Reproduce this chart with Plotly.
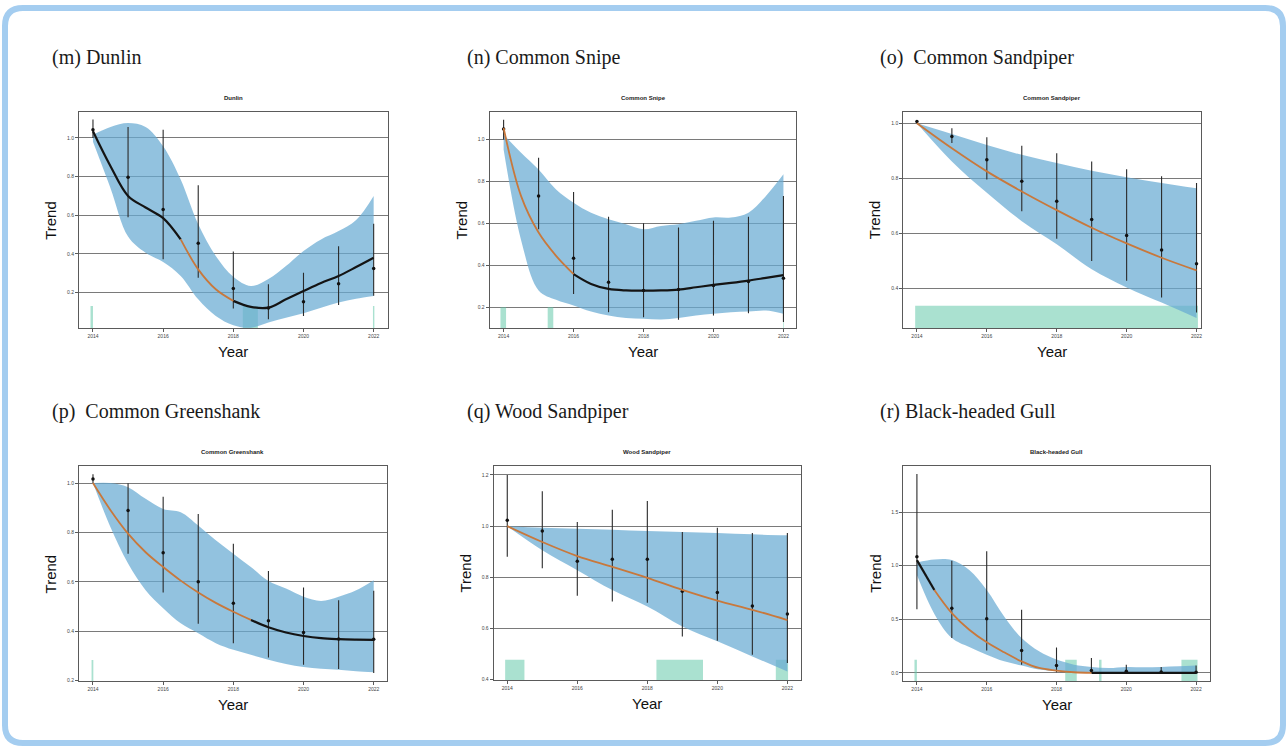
import plotly.graph_objects as go

W, H = 1288, 748

YEARS = [2014, 2015, 2016, 2017, 2018, 2019, 2020, 2021, 2022]
HALF_YEARS = [2014.0, 2014.5, 2015.0, 2015.5, 2016.0, 2016.5, 2017.0, 2017.5, 2018.0,
              2018.5, 2019.0, 2019.5, 2020.0, 2020.5, 2021.0, 2021.5, 2022.0]

# (m) Dunlin
DUN_FIT = [1.035, 0.854, 0.70, 0.64, 0.585, 0.475, 0.32, 0.217, 0.157, 0.126, 0.122,
           0.165, 0.208, 0.25, 0.286, 0.332, 0.38]
DUN_BAND_HI = [1.017, 1.057, 1.077, 1.057, 0.957, 0.785, 0.553, 0.389, 0.282, 0.234, 0.27,
               0.337, 0.415, 0.475, 0.518, 0.575, 0.70]
DUN_BAND_LO = [0.98, 0.74, 0.49, 0.406, 0.358, 0.286, 0.165, 0.079, 0.031, 0.018, 0.045,
               0.07, 0.093, 0.122, 0.148, 0.168, 0.182]
DUN_PT = [1.043, 0.797, 0.630, 0.455, 0.221, 0.120, 0.153, 0.246, 0.325]
DUN_LO = [1.00, 0.59, 0.372, 0.277, 0.117, 0.062, 0.079, 0.136, 0.183]
DUN_HI = [1.095, 1.057, 1.043, 0.756, 0.413, 0.243, 0.303, 0.44, 0.556]
DUN_RECT_X0 = [2013.93, 2018.27, 2021.98]
DUN_RECT_X1 = [2014.0, 2018.70, 2022.02]
DUN_RECT_TOP = 0.13

# (n) Common Snipe
SNI_FIT = [1.055, 0.73, 0.556, 0.445, 0.358, 0.311, 0.287, 0.28, 0.279, 0.28, 0.284,
           0.295, 0.306, 0.316, 0.327, 0.34, 0.353]
SNI_BAND_HI = [1.024, 0.937, 0.857, 0.762, 0.699, 0.651, 0.62, 0.596, 0.572, 0.588, 0.596,
               0.612, 0.628, 0.628, 0.651, 0.731, 0.834]
SNI_BAND_LO = [0.952, 0.52, 0.28, 0.235, 0.208, 0.179, 0.16, 0.148, 0.145, 0.141, 0.148,
               0.16, 0.168, 0.176, 0.179, 0.184, 0.168]
SNI_PT = [1.051, 0.731, 0.434, 0.319, 0.279, 0.284, 0.303, 0.323, 0.338]
SNI_LO = [1.0, 0.572, 0.263, 0.176, 0.152, 0.14, 0.16, 0.171, 0.129]
SNI_HI = [1.095, 0.913, 0.75, 0.631, 0.6, 0.58, 0.612, 0.631, 0.731]
SNI_RECT_X0 = [2013.91, 2015.26, 2021.99]
SNI_RECT_X1 = [2014.07, 2015.42, 2022.01]
SNI_RECT_TOP = 0.2

# (o) Common Sandpiper
SAN_FIT = [1.0, 0.909, 0.825, 0.752, 0.684, 0.62, 0.563, 0.511, 0.465]
SAN_BAND_HI = [1.0, 0.961, 0.921, 0.885, 0.855, 0.827, 0.804, 0.783, 0.764]
SAN_BAND_LO = [1.0, 0.861, 0.747, 0.644, 0.56, 0.469, 0.403, 0.348, 0.292]
SAN_PT = [1.006, 0.952, 0.867, 0.789, 0.716, 0.65, 0.592, 0.539, 0.489]
SAN_LO = [1.0, 0.928, 0.795, 0.68, 0.58, 0.499, 0.427, 0.366, 0.312]
SAN_HI = [1.01, 0.982, 0.949, 0.918, 0.891, 0.861, 0.833, 0.807, 0.783]
SAN_RECT_X0 = [2013.95]
SAN_RECT_X1 = [2022.04]
SAN_RECT_TOP = 0.336

# (p) Common Greenshank
GRE_FIT = [1.0, 0.89, 0.795, 0.72, 0.66, 0.605, 0.557, 0.515, 0.479, 0.446, 0.416,
           0.395, 0.381, 0.372, 0.368, 0.366, 0.365]
GRE_BAND_HI = [1.0, 1.0, 0.983, 0.936, 0.895, 0.882, 0.828, 0.768, 0.714, 0.66, 0.603,
               0.573, 0.54, 0.523, 0.54, 0.566, 0.607]
GRE_BAND_LO = [1.0, 0.821, 0.674, 0.566, 0.493, 0.432, 0.392, 0.352, 0.325, 0.305, 0.285,
               0.268, 0.255, 0.248, 0.244, 0.238, 0.234]
GRE_PT = [1.016, 0.889, 0.718, 0.60, 0.513, 0.443, 0.395, 0.369, 0.368]
GRE_LO = [1.0, 0.714, 0.557, 0.43, 0.352, 0.294, 0.264, 0.247, 0.231]
GRE_HI = [1.036, 0.999, 0.945, 0.875, 0.754, 0.644, 0.577, 0.526, 0.564]
GRE_RECT_X0 = [2013.96]
GRE_RECT_X1 = [2014.01]
GRE_RECT_TOP = 0.284

# (q) Wood Sandpiper
WOO_FIT = [1.0, 0.938, 0.883, 0.841, 0.798, 0.751, 0.709, 0.673, 0.633]
WOO_BAND_HI = [1.0, 0.994, 0.99, 0.986, 0.981, 0.977, 0.973, 0.968, 0.964]
WOO_BAND_LO = [1.0, 0.906, 0.828, 0.75, 0.686, 0.608, 0.55, 0.491, 0.432]
WOO_PT = [1.023, 0.981, 0.863, 0.871, 0.871, 0.746, 0.741, 0.688, 0.657]
WOO_LO = [0.88, 0.835, 0.728, 0.705, 0.701, 0.569, 0.552, 0.497, 0.465]
WOO_HI = [1.2, 1.136, 1.016, 1.064, 1.098, 0.977, 0.994, 0.973, 0.973]
WOO_RECT_X0 = [2013.94, 2018.26, 2021.67]
WOO_RECT_X1 = [2014.49, 2019.59, 2022.02]
WOO_RECT_TOP = 0.478

# (r) Black-headed Gull
GUL_FIT = [1.052, 0.773, 0.557, 0.402, 0.285, 0.192, 0.108, 0.046, 0.022, 0.006, 0.0,
           0.0, 0.0, 0.0, 0.0, 0.0, 0.0]
GUL_BAND_HI = [1.03, 1.058, 1.052, 0.959, 0.773, 0.526, 0.325, 0.201, 0.124, 0.077, 0.056,
               0.046, 0.056, 0.053, 0.056, 0.062, 0.068]
GUL_BAND_LO = [0.912, 0.55, 0.325, 0.241, 0.17, 0.108, 0.068, 0.031, 0.015, 0.006, 0.0,
               0.0, 0.0, 0.0, 0.0, 0.0, 0.0]
GUL_PT = [1.083, 0.603, 0.504, 0.21, 0.068, 0.022, 0.015, 0.009, 0.006]
GUL_LO = [0.594, 0.325, 0.21, 0.077, 0.006, 0.0, 0.0, 0.0, 0.0]
GUL_HI = [1.856, 1.045, 1.135, 0.588, 0.238, 0.139, 0.077, 0.056, 0.068]
GUL_RECT_X0 = [2013.93, 2018.25, 2019.22, 2021.58]
GUL_RECT_X1 = [2014.0, 2018.58, 2019.29, 2022.04]
GUL_RECT_TOP = 0.123

BAND = "rgba(104,170,210,0.72)"
RECT = "rgba(100,200,170,0.55)"
ORANGE = "#c8783c"
FIT_BLACK = "#141414"
GRID = "#7a7a7a"
FRAME = "#5a5a5a"

# label, inner title, frame box in px (left, right, top, bottom), x range, y range, y ticks,
# fit x, fit, band hi, band lo, significant-decline span, points, bars, rects
PANELS = [
    ("(m) Dunlin", "Dunlin", (79, 388, 112, 329), [2013.6, 2022.4], [0.016, 1.136],
     [0.2, 0.4, 0.6, 0.8, 1.0], HALF_YEARS, DUN_FIT, DUN_BAND_HI, DUN_BAND_LO, (2016.5, 2018.0),
     DUN_PT, DUN_LO, DUN_HI, DUN_RECT_X0, DUN_RECT_X1, DUN_RECT_TOP),
    ("(n) Common Snipe", "Common Snipe", (490, 797, 112, 329), [2013.6, 2022.37], [0.10, 1.133],
     [0.2, 0.4, 0.6, 0.8, 1.0], HALF_YEARS, SNI_FIT, SNI_BAND_HI, SNI_BAND_LO, (2014.0, 2016.0),
     SNI_PT, SNI_LO, SNI_HI, SNI_RECT_X0, SNI_RECT_X1, SNI_RECT_TOP),
    ("(o)  Common Sandpiper", "Common Sandpiper", (904, 1202, 112, 329), [2013.61, 2022.13],
     [0.255, 1.042], [0.4, 0.6, 0.8, 1.0], YEARS, SAN_FIT, SAN_BAND_HI, SAN_BAND_LO,
     (2014.0, 2022.0), SAN_PT, SAN_LO, SAN_HI, SAN_RECT_X0, SAN_RECT_X1, SAN_RECT_TOP),
    ("(p)  Common Greenshank", "Common Greenshank", (79, 387, 467, 683), [2013.6, 2022.37],
     [0.198, 1.07], [0.2, 0.4, 0.6, 0.8, 1.0], HALF_YEARS, GRE_FIT, GRE_BAND_HI, GRE_BAND_LO,
     (2014.0, 2018.5), GRE_PT, GRE_LO, GRE_HI, GRE_RECT_X0, GRE_RECT_X1, GRE_RECT_TOP),
    ("(q) Wood Sandpiper", "Wood Sandpiper", (494, 802, 467, 682), [2013.61, 2022.4],
     [0.398, 1.236], [0.4, 0.6, 0.8, 1.0, 1.2], YEARS, WOO_FIT, WOO_BAND_HI, WOO_BAND_LO,
     (2014.0, 2022.0), WOO_PT, WOO_LO, WOO_HI, WOO_RECT_X0, WOO_RECT_X1, WOO_RECT_TOP),
    ("(r) Black-headed Gull", "Black-headed Gull", (904, 1211, 467, 683), [2013.61, 2022.4],
     [-0.077, 1.932], [0.0, 0.5, 1.0, 1.5], HALF_YEARS, GUL_FIT, GUL_BAND_HI, GUL_BAND_LO,
     (2014.5, 2019.0), GUL_PT, GUL_LO, GUL_HI, GUL_RECT_X0, GUL_RECT_X1, GUL_RECT_TOP),
]
LABEL_X = [50, 465, 879, 50, 465, 879]
LABEL_Y = [58, 58, 58, 413, 413, 413]

fig = go.Figure()
annotations = []

for i, (label, name, box, xr, yr, yt, fx, fit, bhi, blo, span, pt, lo, hi,
        rx0, rx1, rtop) in enumerate(PANELS, start=1):
    xa, ya = f"x{i}", f"y{i}"
    left, right, top, bottom = box

    # confidence band
    fig.add_trace(go.Scatter(x=fx, y=blo, mode="lines", line=dict(width=0, shape="spline"),
                             xaxis=xa, yaxis=ya, hoverinfo="skip"))
    fig.add_trace(go.Scatter(x=fx, y=bhi, mode="lines", line=dict(width=0, shape="spline"),
                             fill="tonexty", fillcolor=BAND, xaxis=xa, yaxis=ya, hoverinfo="skip"))

    # highlighted year ranges along the bottom
    fig.add_trace(go.Bar(x=[(a + b) / 2 for a, b in zip(rx0, rx1)],
                         width=[b - a for a, b in zip(rx0, rx1)],
                         y=[rtop - yr[0]] * len(rx0), base=yr[0],
                         marker=dict(color=RECT, line=dict(width=0)),
                         xaxis=xa, yaxis=ya, hoverinfo="skip"))

    # annual indices with intervals
    fig.add_trace(go.Scatter(x=YEARS, y=pt, mode="markers",
                             marker=dict(size=3.5, color="#111"),
                             error_y=dict(type="data", symmetric=False,
                                          array=[h - p for h, p in zip(hi, pt)],
                                          arrayminus=[p - l for p, l in zip(pt, lo)],
                                          width=0, thickness=1.1, color="#2a2a2a"),
                             xaxis=xa, yaxis=ya))

    # smoothed trend: black outside, orange inside the significant-decline span
    pieces = [
        ([(x, y) for x, y in zip(fx, fit) if x <= span[0]], FIT_BLACK, 2.2),
        ([(x, y) for x, y in zip(fx, fit) if x >= span[1]], FIT_BLACK, 2.2),
        ([(x, y) for x, y in zip(fx, fit) if span[0] <= x <= span[1]], ORANGE, 1.8),
    ]
    for pts, color, w in pieces:
        if len(pts) < 2:
            continue
        fig.add_trace(go.Scatter(x=[p[0] for p in pts], y=[p[1] for p in pts], mode="lines",
                                 line=dict(color=color, width=w, shape="spline"),
                                 xaxis=xa, yaxis=ya))

    axis_common = dict(showline=True, mirror=True, linecolor=FRAME, linewidth=1,
                       ticks="outside", ticklen=3, tickwidth=1, tickcolor=FRAME,
                       tickfont=dict(size=5, color="#444"))
    fig.update_layout(**{
        f"xaxis{i}": dict(domain=[left / W, right / W], anchor=ya, range=xr,
                          tickvals=[2014, 2016, 2018, 2020, 2022], showgrid=False,
                          zeroline=False, **axis_common),
        f"yaxis{i}": dict(domain=[1 - bottom / H, 1 - top / H], anchor=xa, range=yr,
                          tickvals=yt, tickformat=".1f", showgrid=True, gridcolor=GRID,
                          gridwidth=1.2, zeroline=True, zerolinecolor=GRID,
                          zerolinewidth=1.2, **axis_common),
    })

    cx = (left + right) / 2 / W
    annotations += [
        dict(text=label, x=LABEL_X[i - 1] / W, y=1 - LABEL_Y[i - 1] / H, xanchor="left",
             yanchor="middle", font=dict(family="Liberation Serif", size=20, color="#1a1a1a")),
        dict(text=f"<b>{name}</b>", x=cx, y=1 - (top - 14) / H, xanchor="center",
             yanchor="middle", font=dict(size=6, color="#222")),
        dict(text="Year", x=cx, y=1 - (bottom + 23) / H, xanchor="center", yanchor="middle",
             font=dict(size=15, color="#111")),
        dict(text="Trend", x=(left - 28) / W, y=1 - (top + bottom) / 2 / H, textangle=-90,
             xanchor="center", yanchor="middle", font=dict(size=15, color="#111")),
    ]

for a in annotations:
    a.update(xref="paper", yref="paper", showarrow=False)

# rounded frame around the whole figure
x0, x1 = 5 / W, 1284 / W
yt_, yb_ = 1 - 8 / H, 1 - 745 / H
rx, ry = 18 / W, 18 / H
frame_path = (f"M {x0 + rx},{yt_} L {x1 - rx},{yt_} Q {x1},{yt_} {x1},{yt_ - ry} "
              f"L {x1},{yb_ + ry} Q {x1},{yb_} {x1 - rx},{yb_} L {x0 + rx},{yb_} "
              f"Q {x0},{yb_} {x0},{yb_ + ry} L {x0},{yt_ - ry} Q {x0},{yt_} {x0 + rx},{yt_} Z")

fig.update_layout(
    width=W, height=H, margin=dict(l=0, r=0, t=0, b=0),
    paper_bgcolor="white", plot_bgcolor="white", showlegend=False,
    barmode="overlay",
    font=dict(family="Liberation Sans, Arial, sans-serif"),
    annotations=annotations,
    shapes=[dict(type="path", path=frame_path, xref="paper", yref="paper",
                 line=dict(color="#a4cdf0", width=6))],
)

# drop the default page margin so the figure sits at the window origin
fig.write_html("out.html", config={"displayModeBar": False},
               post_script="document.body.style.margin = '0';")
